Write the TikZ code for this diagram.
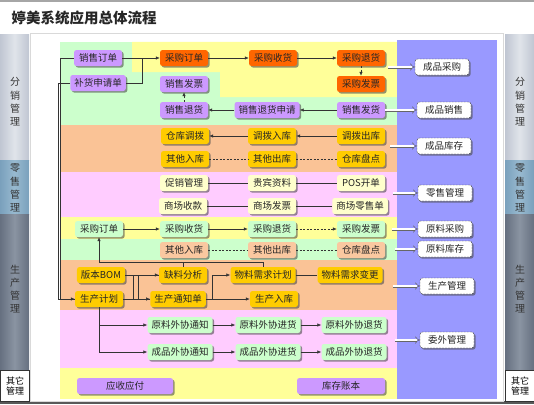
\documentclass[tikz,border=0pt]{standalone}
\usepackage{fontspec}
\setmainfont{Noto Sans CJK SC}
\usepackage{tikz}
\usetikzlibrary{arrows.meta, shadows, calc}
\usepackage{xcolor}
\definecolor{bandgreen}{RGB}{204,255,204}
\definecolor{bandyellow}{RGB}{255,255,153}
\definecolor{bandorange}{RGB}{250,195,150}
\definecolor{bandpink}{RGB}{255,204,255}
\definecolor{bandpurple}{RGB}{153,153,255}
\definecolor{nodepurple}{RGB}{204,153,255}
\definecolor{nodered}{RGB}{255,102,0}
\definecolor{nodegold}{RGB}{255,204,0}
\definecolor{nodecream}{RGB}{255,255,204}
\definecolor{nodemint}{RGB}{204,255,204}
\definecolor{nodepeach}{RGB}{250,200,160}
\definecolor{sidelight}{RGB}{192,198,210}
\definecolor{sidelightmid}{RGB}{224,228,234}
\definecolor{sideblue}{RGB}{122,160,188}
\definecolor{sidebluemid}{RGB}{152,186,208}
\definecolor{sidedark}{RGB}{102,112,128}
\definecolor{sidedarkmid}{RGB}{138,148,162}

\begin{document}
\begin{tikzpicture}[
  x=1pt, y=-1pt,
  box/.style={rounded corners=2.5pt, text=black!85, font=\fontsize{9.5}{11}\selectfont,
              minimum height=16pt, minimum width=48pt, inner xsep=4pt, inner ysep=2pt,
              drop shadow={shadow xshift=1.6pt, shadow yshift=-1.6pt, fill=black!70, opacity=.6}},
  pbox/.style={box, fill=nodepurple},
  rbox/.style={box, fill=nodered},
  gbox/.style={box, fill=nodegold},
  cbox/.style={box, fill=nodecream},
  mbox/.style={box, fill=nodemint},
  obox/.style={box, fill=nodepeach},
  tag/.style={box, fill=white, draw=black!80, dash pattern=on 2pt off 1pt, minimum width=54pt},
  side/.style={align=center, text=black!80, font=\fontsize{10}{13.3}\selectfont},
  arrow/.style={-{Latex[length=4pt, width=3.5pt]}, line width=0.6pt, black!80},
  link/.style={line width=0.6pt, black!80},
  dlink/.style={link, dash pattern=on 2pt off 1.5pt},
  darrow/.style={arrow, dash pattern=on 2pt off 1.5pt},
  fat/.style={draw=black!60, double=white, double distance=2pt, line width=0.5pt, -{Implies}},
]
  \useasboundingbox (0,0) rectangle (534,404);
  % frame
  \fill[black!35] (0,0) rectangle (534,2);
  \fill[black!65] (0,401) rectangle (534,404);
  \fill[white, draw=black!15] (30,33) rectangle (503,401);
  \node[anchor=west, font=\fontsize{14.5}{16}\selectfont\bfseries, text=black!85] (title) at (8,18) {婷美系统应用总体流程};

  % side bars
  \foreach \sx in {0,505} {
    \shade[left color=sidelight, right color=sidelight, middle color=sidelightmid] (\sx,35) rectangle ++(29,125);
    \shade[left color=sideblue, right color=sideblue, middle color=sidebluemid] (\sx,160) rectangle ++(29,54);
    \shade[left color=sidedark, right color=sidedark, middle color=sidedarkmid] (\sx,214) rectangle ++(29,156);
    \draw[draw=black!80, fill=white] (\sx,370) rectangle ++(29,31);
  }
  \node[side] (lfx) at (15,102) {分\\销\\管\\理};
  \node[side] (lls) at (15,188) {零\\售\\管\\理};
  \node[side] (lsc) at (15,289) {生\\产\\管\\理};
  \node[side, font=\fontsize{9}{10.5}\selectfont, text=black] (lqt) at (15,386) {其它\\管理};
  \node[side] (rfx) at (520,102) {分\\销\\管\\理};
  \node[side] (rls) at (520,188) {零\\售\\管\\理};
  \node[side] (rsc) at (520,289) {生\\产\\管\\理};
  \node[side, font=\fontsize{9}{10.5}\selectfont, text=black] (rqt) at (520,386) {其它\\管理};

  % bands
  \fill[bandgreen] (60,42) rectangle (397,125);
  \fill[bandyellow] (132,42) -- (397,42) -- (397,97) -- (220,97) -- (220,72) -- (132,72) -- cycle;
  \fill[bandorange] (60,125) rectangle (397,172);
  \fill[bandpink] (60,172) rectangle (397,217);
  \fill[bandyellow] (60,217) rectangle (397,239);
  \fill[bandgreen] (60,239) rectangle (397,260);
  \fill[bandorange] (60,260) rectangle (397,310);
  \fill[bandpink] (60,310) rectangle (397,368);
  \fill[bandyellow] (60,368) rectangle (397,399);
  \fill[bandpurple] (397,40) rectangle (497,399);

  % distribution
  \node[pbox] (xsdd) at (98,58) {销售订单};
  \node[pbox] (bhsq) at (98,83) {补货申请单};
  \node[rbox] (cgdd) at (184,58) {采购订单};
  \node[rbox] (cgsh) at (273,58) {采购收货};
  \node[rbox] (cgth) at (361,58) {采购退货};
  \node[rbox] (cgfp) at (361,84) {采购发票};
  \node[pbox] (xsfp) at (184,84) {销售发票};
  \node[pbox] (xsth) at (184,110) {销售退货};
  \node[pbox] (xsthsq) at (267,110) {销售退货申请};
  \node[pbox] (xsfh) at (361,110) {销售发货};
  % stock
  \node[gbox] (ckdb) at (185,136) {仓库调拨};
  \node[gbox] (dbrk) at (272,136) {调拨入库};
  \node[gbox] (dbck) at (361,136) {调拨出库};
  \node[gbox] (qtrk) at (185,159) {其他入库};
  \node[gbox] (qtck) at (272,159) {其他出库};
  \node[gbox] (ckpd) at (361,159) {仓库盘点};
  % retail
  \node[cbox] (cxgl) at (184,183) {促销管理};
  \node[cbox] (gbzl) at (272,183) {贵宾资料};
  \node[cbox] (posk) at (361,183) {POS开单};
  \node[cbox] (scsk) at (183,206) {商场收款};
  \node[cbox] (scfp) at (272,206) {商场发票};
  \node[cbox] (sclsd) at (360,206) {商场零售单};
  % raw material
  \node[mbox] (ycgdd) at (99,229) {采购订单};
  \node[mbox] (ycgsh) at (184,229) {采购收货};
  \node[mbox] (ycgth) at (272,229) {采购退货};
  \node[mbox] (ycgfp) at (361,229) {采购发票};
  \node[obox] (yqtrk) at (184,250) {其他入库};
  \node[obox] (yqtck) at (272,250) {其他出库};
  \node[obox] (yckpd) at (361,250) {仓库盘点};
  % production
  \node[gbox] (bbom) at (101,275) {版本BOM};
  \node[gbox] (qlfx) at (183,275) {缺料分析};
  \node[gbox] (wljh) at (263,275) {物料需求计划};
  \node[gbox] (wlbg) at (350,275) {物料需求变更};
  \node[gbox] (scjh) at (99,299) {生产计划};
  \node[gbox] (sctz) at (178,299) {生产通知单};
  \node[gbox] (scrk) at (274,299) {生产入库};
  % outsourcing
  \node[mbox] (ylwt) at (180,325) {原料外协通知};
  \node[mbox] (yljh) at (268,325) {原料外协进货};
  \node[mbox] (ylth) at (354,325) {原料外协退货};
  \node[mbox] (cpwt) at (180,352) {成品外协通知};
  \node[mbox] (cpjh) at (268,352) {成品外协进货};
  \node[mbox] (cpth) at (354,352) {成品外协退货};
  % other
  \node[pbox, minimum width=96pt] (ysyf) at (125,386) {应收应付};
  \node[pbox, minimum width=88pt] (kczb) at (341,386) {库存账本};

  % module tags
  \node[tag] (tcpcg) at (442,67) {成品采购};
  \node[tag] (tcpxs) at (444,110) {成品销售};
  \node[tag] (tcpkc) at (444,146) {成品库存};
  \node[tag] (tlsgl) at (445,193) {零售管理};
  \node[tag] (tylcg) at (445,229) {原料采购};
  \node[tag] (tylkc) at (445,249) {原料库存};
  \node[tag] (tscgl) at (447,286) {生产管理};
  \node[tag] (twwgl) at (447,340) {委外管理};
  \coordinate (s1) at (388,67);
  \coordinate (s3) at (390,146);
  \coordinate (s4) at (393,193);
  \coordinate (s5) at (392,229);
  \coordinate (s6) at (395,249);
  \coordinate (s7) at (393,286);
  \coordinate (s8) at (395,340);
  \draw[fat] (s1) -- (tcpcg); \draw[fat] (xsfh) -- (tcpxs);
  \draw[fat] (s3) -- (tcpkc); \draw[fat] (s4) -- (tlsgl);
  \draw[fat] (s5) -- (tylcg); \draw[fat] (s6) -- (tylkc);
  \draw[fat] (s7) -- (tscgl); \draw[fat] (s8) -- (twwgl);

  % connectors
  \draw[arrow] (xsdd.west) -- ++(-14,0) |- (scjh.west);
  \draw[link] (bhsq.west) -- ++(-12,0) |- (scjh.west);
  \draw[arrow] (xsdd) -- (cgdd);
  \draw[link] (bhsq.east) -| ($(cgdd.west)+(-18,0)$);
  \draw[arrow] (cgdd) -- (cgsh); \draw[arrow] (cgsh) -- (cgth);
  \draw[darrow] (cgth) -- (cgfp); \draw[darrow] (xsth) -- (xsfp);
  \draw[arrow] (xsfh) -- (xsthsq); \draw[arrow] (xsthsq) -- (xsth);
  \draw[arrow] (dbck) -- (dbrk); \draw[arrow] (dbrk) -- (ckdb);
  \draw[dlink] (qtrk) -- (qtck) -- (ckpd);
  \draw[link] (cxgl) -- (gbzl) -- (posk);
  \draw[link] (scsk) -- (scfp) -- (sclsd);
  \draw[arrow] (ycgdd) -- (ycgsh); \draw[arrow] (ycgsh) -- (ycgth);
  \draw[darrow] (ycgth) -- (ycgfp);
  \draw[dlink] (yqtrk) -- (yqtck) -- (yckpd);
  \draw[arrow] (wljh.north) -- ++(0,-5) -| (ycgdd.south);
  \draw[link] (qlfx.north) -- ++(0,-5);
  \draw[arrow] (bbom) -- (qlfx); \draw[arrow] (scjh) -- (sctz);
  \draw[link] (bbom.east) -- ++(8,0) |- (sctz.west);
  \draw[link] (scjh.east) -- ++(15,0) |- (qlfx.west);
  \draw[arrow] (sctz.east) -- ++(6,0) |- (wljh.west);
  \draw[arrow] (sctz) -- (scrk);
  \draw[link] (wljh) -- (wlbg);
  \draw[arrow] (scjh.south) |- (ylwt.west);
  \draw[arrow] (scjh.south) |- (cpwt.west);
  \draw[arrow] (ylwt) -- (yljh); \draw[arrow] (yljh) -- (ylth);
  \draw[arrow] (cpwt) -- (cpjh); \draw[arrow] (cpjh) -- (cpth);
\end{tikzpicture}
\end{document}
